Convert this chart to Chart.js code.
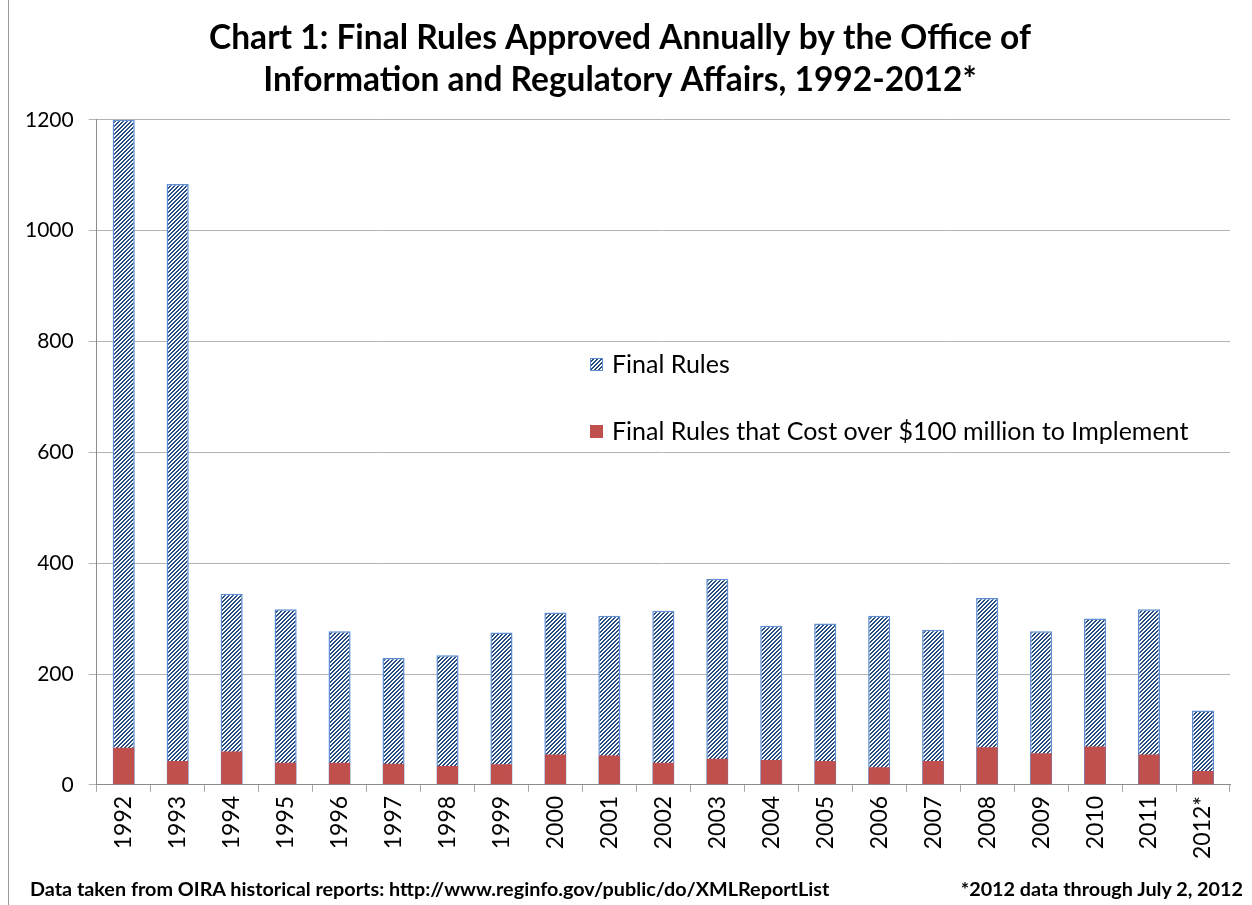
<!DOCTYPE html>
<html>
<head>
<meta charset="utf-8">
<script src="https://cdn.jsdelivr.net/npm/chart.js@4"></script>
<style>
  html, body { margin: 0; padding: 0; background: #fff; }
  #wrap { position: relative; width: 1252px; height: 905px; overflow: hidden; }
  #wrap canvas { position: absolute; left: 0; top: 0; }
  .edge { position: absolute; left: 8px; top: 0; width: 1px; height: 905px; background: #9a9a9a; }
  .note { position: absolute; top: 876px; font: bold 19.8px Lato, sans-serif; color: #000; white-space: nowrap; }
  #noteLeft { left: 30px; }
  #noteRight { right: 9px; }
</style>
</head>
<body>
<div id="wrap">
  <canvas id="rulesChart" width="1252" height="905"></canvas>
  <div class="edge"></div>
  <div class="note" id="noteLeft">Data taken from OIRA historical reports: http://www.reginfo.gov/public/do/XMLReportList</div>
  <div class="note" id="noteRight">*2012 data through July 2, 2012</div>
</div>
<script>
// data
const years = ['1992', '1993', '1994', '1995', '1996', '1997', '1998', '1999', '2000', '2001',
  '2002', '2003', '2004', '2005', '2006', '2007', '2008', '2009', '2010', '2011', '2012*'];
const finalRules = [1200, 1084, 345, 317, 277, 229, 234, 275, 311, 305,
  314, 372, 287, 291, 305, 280, 337, 277, 300, 317, 134];
const costlyRules = [67, 43, 60, 40, 40, 38, 34, 37, 55, 53,
  40, 47, 45, 43, 32, 43, 68, 57, 69, 55, 25];
const yTicks = [0, 200, 400, 600, 800, 1000, 1200];

const legendLabels = ['Final Rules', 'Final Rules that Cost over $100 million to Implement'];
const RED = '#c0504d';
const BLUE_EDGE = '#5f8fd2';
const STRIPE = '#264c84';

// wide upward diagonal hatch, like the excel fill
function makeHatch() {
  const tile = document.createElement('canvas');
  tile.width = 4;
  tile.height = 4;
  const t = tile.getContext('2d');
  t.fillStyle = '#fff';
  t.fillRect(0, 0, 4, 4);
  t.fillStyle = STRIPE;
  for (let x = 0; x < 4; x++) {
    for (let y = 0; y < 4; y++) {
      if ((x + y) % 4 === 0 || (x + y) % 4 === 3) t.fillRect(x, y, 1, 1);
    }
  }
  return document.getElementById('rulesChart').getContext('2d').createPattern(tile, 'repeat');
}

const hatch = makeHatch();

// legend sits inside the plot, drawn by hand
const insideLegend = {
  id: 'insideLegend',
  afterDraw(chart) {
    const ctx = chart.ctx;
    const x = 590;
    const rows = [364, 431];
    ctx.save();
    ctx.font = '25px Lato, sans-serif';
    ctx.textBaseline = 'middle';

    ctx.fillStyle = hatch;
    ctx.fillRect(x, rows[0] - 6, 13, 13);
    ctx.strokeStyle = BLUE_EDGE;
    ctx.lineWidth = 1;
    ctx.strokeRect(x + 0.5, rows[0] - 5.5, 12, 12);

    ctx.fillStyle = RED;
    ctx.fillRect(x, rows[1] - 6, 13, 13);

    ctx.fillStyle = '#000';
    ctx.fillText(legendLabels[0], x + 22, rows[0] + 1);
    ctx.fillText(legendLabels[1], x + 22, rows[1] + 1);
    ctx.restore();
  }
};

new Chart(document.getElementById('rulesChart'), {
  type: 'bar',
  data: {
    labels: years,
    datasets: [
      {
        label: legendLabels[0],
        data: finalRules,
        backgroundColor: hatch,
        borderColor: BLUE_EDGE,
        borderWidth: 1.5,
        grouped: false,
        categoryPercentage: 1,
        barPercentage: 0.41,
        order: 1
      },
      {
        label: legendLabels[1],
        data: costlyRules,
        backgroundColor: RED,
        borderWidth: 0,
        grouped: false,
        categoryPercentage: 1,
        barPercentage: 0.39,
        order: 0
      }
    ]
  },
  options: {
    responsive: false,
    animation: false,
    layout: { padding: { left: 10, right: 22, top: 0, bottom: 42 } },
    plugins: {
      legend: { display: false },
      tooltip: { enabled: false },
      title: {
        display: true,
        text: ['Chart 1: Final Rules Approved Annually by the Office of',
               'Information and Regulatory Affairs, 1992-2012*'],
        color: '#000',
        font: { family: 'Lato, sans-serif', size: 33.5, weight: 'bold', lineHeight: 1.25 },
        padding: { top: 17, bottom: 19 }
      }
    },
    scales: {
      x: {
        offset: true,
        border: { color: '#8c8c8c', width: 1 },
        grid: { offset: true, drawOnChartArea: false, drawTicks: true, tickLength: 7, color: '#a6a6a6' },
        ticks: {
          color: '#000',
          font: { family: 'Lato, sans-serif', size: 23 },
          minRotation: 90,
          maxRotation: 90,
          padding: 4
        }
      },
      y: {
        min: 0,
        max: 1200,
        afterBuildTicks(axis) { axis.ticks = yTicks.map(v => ({ value: v })); },
        border: { color: '#8c8c8c', width: 1 },
        grid: { color: '#b4b4b4', lineWidth: 1, tickLength: 8, drawTicks: true },
        ticks: {
          color: '#000',
          font: { family: 'Lato, sans-serif', size: 21 },
          padding: 15,
          callback: v => String(v)
        }
      }
    }
  },
  plugins: [insideLegend]
});
</script>
</body>
</html>
